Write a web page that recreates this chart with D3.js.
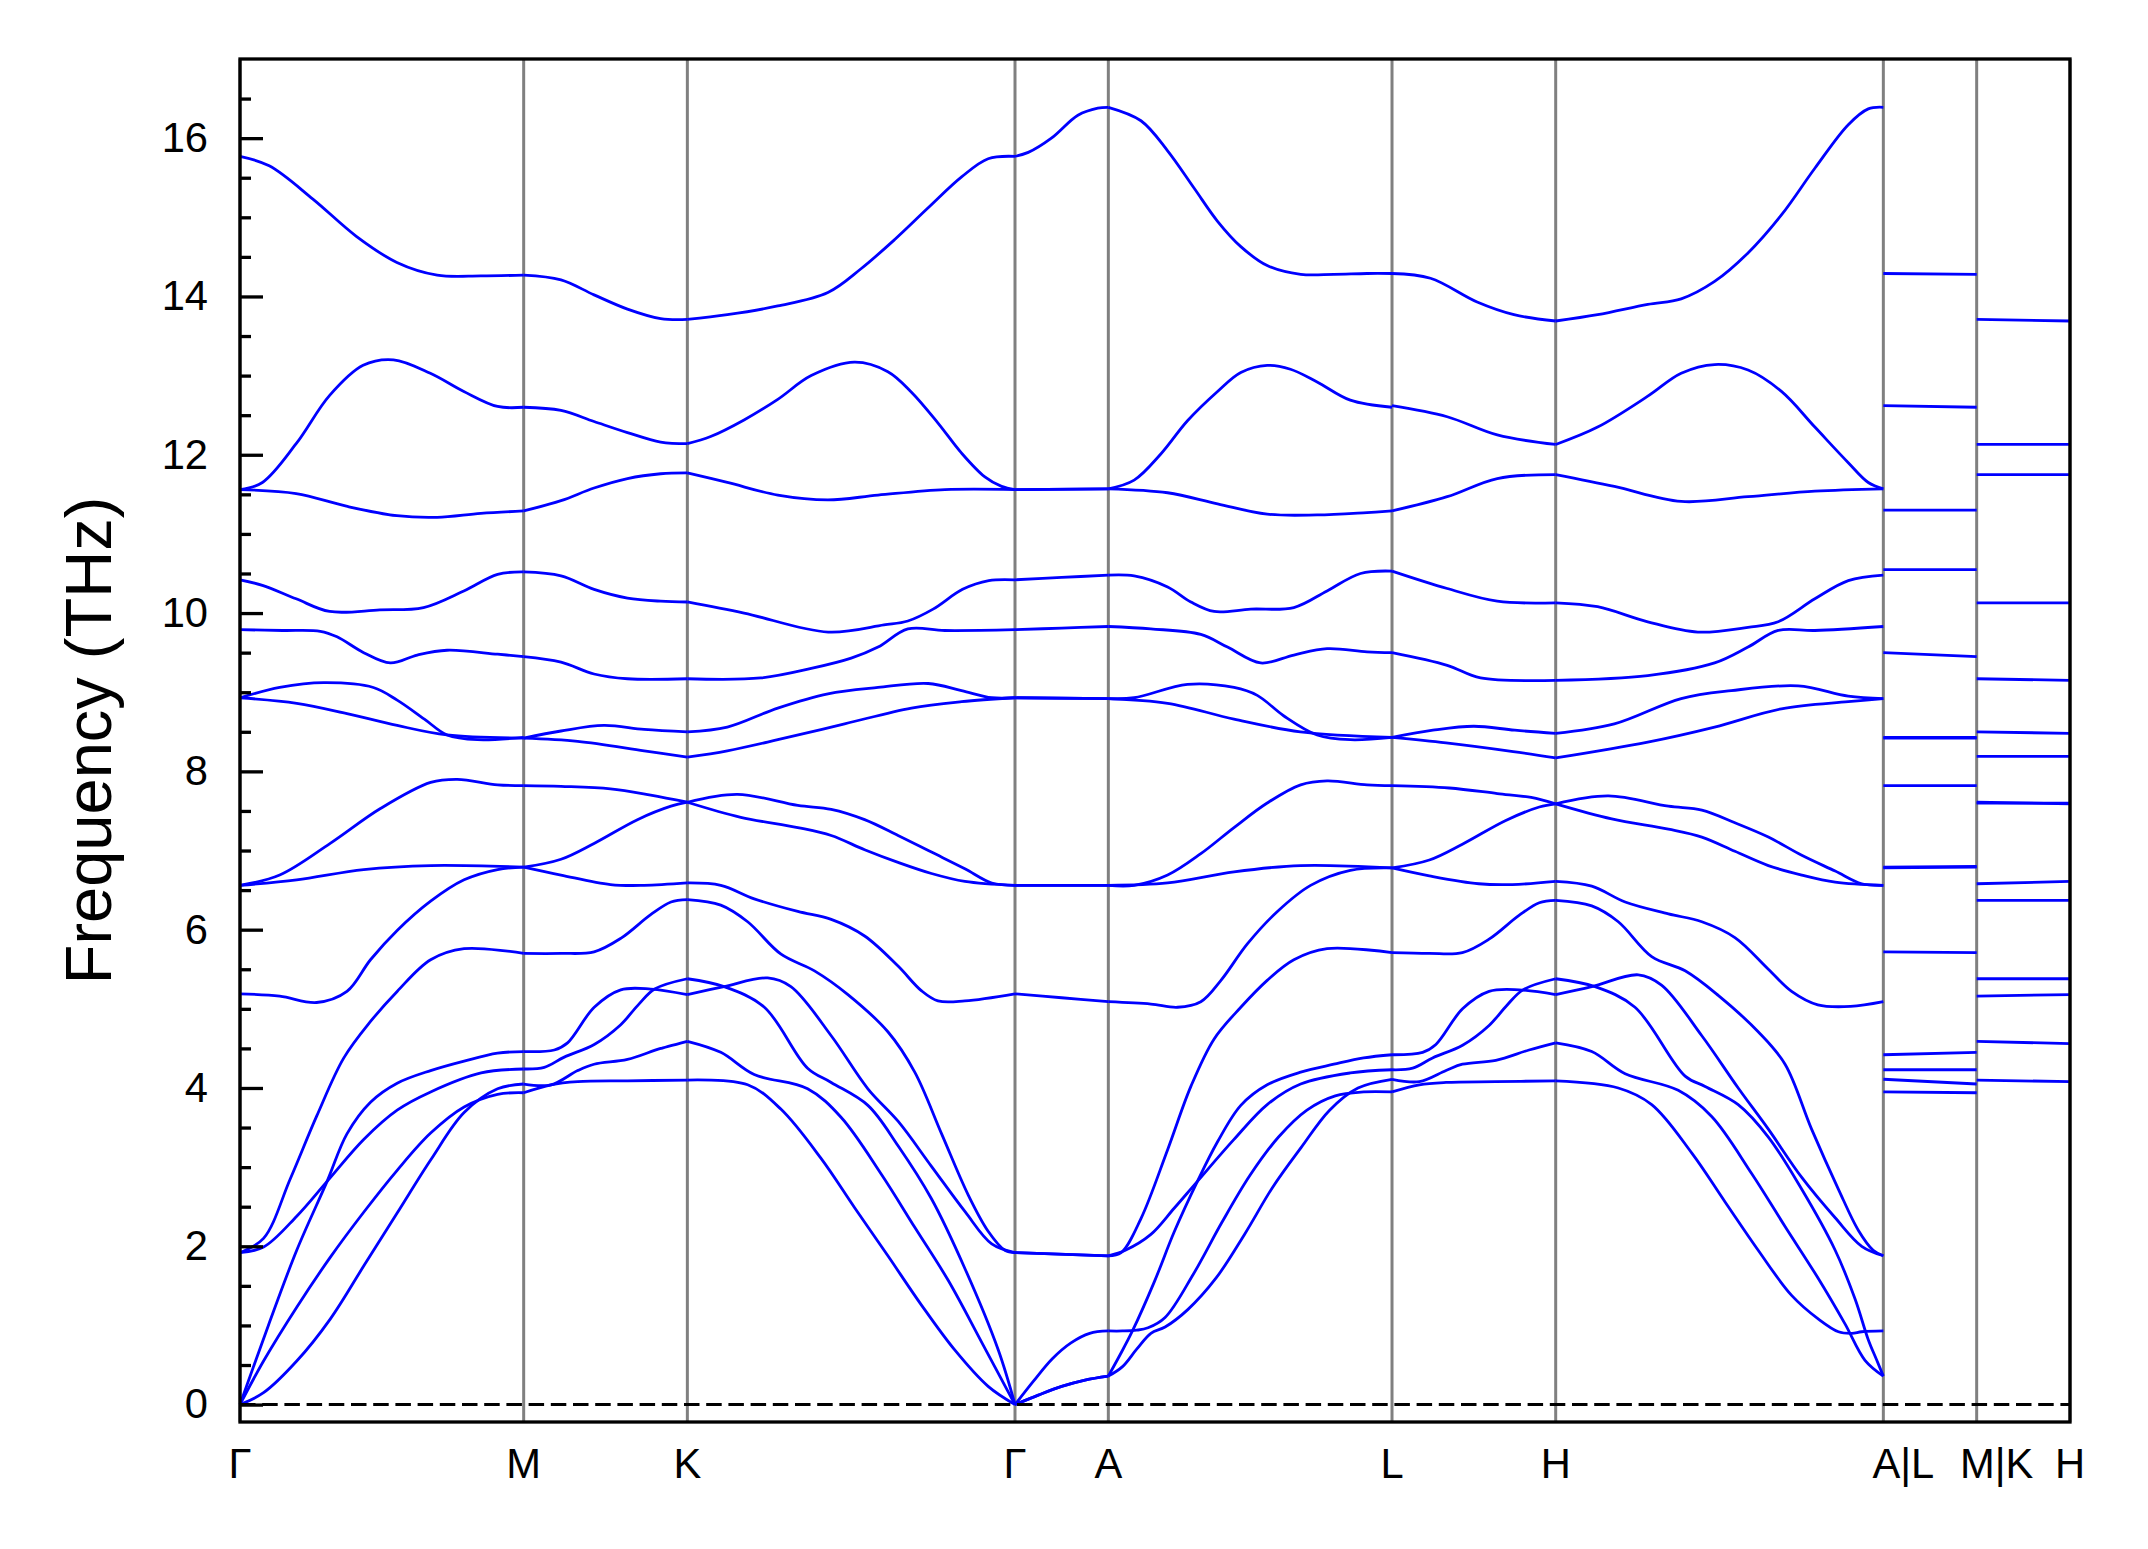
<!DOCTYPE html>
<html>
<head>
<meta charset="utf-8">
<script src="https://cdn.jsdelivr.net/npm/d3@7"></script>
<style>
  body { margin: 0; background: #fff; }
  svg text { font-family: "Liberation Sans", Arial, sans-serif; fill: #000; }
</style>
</head>
<body>
<svg id="chart"></svg>
<script>
const width = 2148;
const height = 1549;

// high-symmetry path
const kLabels = ["Γ", "M", "K", "Γ", "A", "L", "H", "A|L", "M|K", "H"];
const segLengths = [1, 0.577, 1.155, 0.329, 1, 0.577, 1.155, 0.329, 0.329];
const yTickValues = [0, 2, 4, 6, 8, 10, 12, 14, 16];

// each band piece: [fraction along segment, frequency THz]
const bandsGM = [
  [[0,15.77],[0.103,15.65],[0.257,15.23],[0.41,14.76],[0.553,14.43],[0.695,14.27],[0.849,14.26],[1,14.27]],
  [[0,11.56],[0.079,11.65],[0.198,12.14],[0.316,12.75],[0.434,13.13],[0.541,13.2],[0.671,13.03],[0.789,12.8],[0.908,12.61],[1,12.6]],
  [[0,11.56],[0.198,11.51],[0.375,11.35],[0.553,11.23],[0.695,11.21],[0.849,11.26],[1,11.29]],
  [[0,10.42],[0.079,10.35],[0.198,10.18],[0.316,10.02],[0.493,10.04],[0.647,10.07],[0.789,10.28],[0.908,10.49],[1,10.52]],
  [[0,9.79],[0.15,9.78],[0.283,9.77],[0.342,9.7],[0.436,9.5],[0.53,9.37],[0.625,9.47],[0.73,9.53],[0.908,9.48],[1,9.45]],
  [[0,8.93],[0.14,9.06],[0.295,9.12],[0.47,9.06],[0.554,8.9],[0.65,8.66],[0.73,8.46],[0.837,8.4],[1,8.43]],
  [[0,8.93],[0.2,8.86],[0.377,8.73],[0.554,8.58],[0.73,8.46],[1,8.42]],
  [[0,6.56],[0.14,6.69],[0.318,7.09],[0.495,7.53],[0.672,7.86],[0.766,7.9],[0.908,7.83],[1,7.82]],
  [[0,6.56],[0.2,6.63],[0.436,6.76],[0.672,6.81],[1,6.79]],
  [[0,5.19],[0.14,5.16],[0.27,5.08],[0.377,5.22],[0.46,5.62],[0.554,5.99],[0.672,6.36],[0.79,6.63],[0.908,6.76],[1,6.79]],
  [[0,1.92],[0.083,2.1],[0.177,2.85],[0.271,3.65],[0.366,4.38],[0.46,4.84],[0.554,5.22],[0.672,5.62],[0.79,5.76],[1,5.7]],
  [[0,1.92],[0.083,1.99],[0.2,2.38],[0.307,2.82],[0.436,3.35],[0.554,3.72],[0.672,3.95],[0.85,4.19],[1,4.24]],
  [[0,0],[0.1,1.0],[0.2,1.95],[0.307,2.82],[0.377,3.42],[0.46,3.82],[0.554,4.06],[0.672,4.22],[0.79,4.34],[0.908,4.44],[1,4.46]],
  [[0,0],[0.083,0.55],[0.2,1.23],[0.318,1.86],[0.436,2.43],[0.554,2.96],[0.672,3.43],[0.79,3.76],[0.908,3.92],[1,3.94]],
  [[0,0],[0.083,0.15],[0.2,0.55],[0.318,1.08],[0.436,1.75],[0.554,2.42],[0.672,3.09],[0.79,3.69],[0.908,3.99],[1,4.05]]
];

const bandsMK = [
  [[0,14.27],[0.228,14.21],[0.43,14.02],[0.634,13.84],[0.837,13.72],[1,13.71]],
  [[0,12.6],[0.228,12.56],[0.43,12.42],[0.634,12.28],[0.837,12.16],[1,12.14]],
  [[0,11.29],[0.228,11.42],[0.43,11.58],[0.634,11.7],[0.837,11.76],[1,11.77]],
  [[0,10.52],[0.228,10.47],[0.43,10.3],[0.634,10.19],[0.837,10.15],[1,10.14]],
  [[0,9.45],[0.228,9.38],[0.43,9.23],[0.634,9.17],[1,9.17]],
  [[0,8.42],[0.228,8.51],[0.49,8.58],[0.736,8.53],[1,8.5]],
  [[0,8.42],[0.33,8.38],[0.736,8.26],[1,8.18]],
  [[0,7.82],[0.228,7.81],[0.53,7.78],[0.776,7.7],[1,7.61]],
  [[0,6.79],[0.228,6.89],[0.43,7.09],[0.695,7.39],[0.9,7.56],[1,7.61]],
  [[0,6.79],[0.228,6.69],[0.53,6.57],[0.736,6.56],[1,6.59]],
  [[0,5.7],[0.228,5.7],[0.43,5.72],[0.593,5.89],[0.776,6.19],[0.9,6.35],[1,6.38]],
  [[0,4.46],[0.187,4.48],[0.268,4.57],[0.431,5.02],[0.593,5.24],[0.776,5.25],[1,5.18]],
  [[0,4.24],[0.126,4.26],[0.248,4.39],[0.431,4.55],[0.593,4.8],[0.7,5.05],[0.8,5.25],[1,5.38]],
  [[0,4.05],[0.167,4.04],[0.33,4.22],[0.43,4.3],[0.634,4.36],[0.837,4.5],[1,4.59]],
  [[0,3.94],[0.167,4.04],[0.33,4.08],[0.634,4.09],[1,4.1]]
];

const bandsKG = [
  [[0,13.71],[0.122,13.77],[0.276,13.88],[0.429,14.05],[0.53,14.35],[0.633,14.72],[0.735,15.12],[0.837,15.51],[0.918,15.74],[1,15.77]],
  [[0,12.14],[0.071,12.23],[0.173,12.44],[0.276,12.7],[0.378,13.0],[0.51,13.17],[0.612,13.05],[0.684,12.79],[0.765,12.4],[0.837,12.02],[0.908,11.72],[0.959,11.6],[1,11.56]],
  [[0,11.77],[0.122,11.65],[0.276,11.49],[0.429,11.43],[0.582,11.49],[0.786,11.56],[1,11.56]],
  [[0,10.14],[0.173,10.0],[0.43,9.76],[0.6,9.85],[0.673,9.9],[0.75,10.05],[0.84,10.3],[0.92,10.41],[1,10.42]],
  [[0,9.17],[0.224,9.18],[0.378,9.3],[0.5,9.43],[0.582,9.57],[0.673,9.8],[0.786,9.78],[1,9.79]],
  [[0,8.5],[0.122,8.56],[0.276,8.8],[0.429,8.98],[0.582,9.06],[0.735,9.11],[0.837,9.02],[0.929,8.93],[1,8.93]],
  [[0,8.18],[0.122,8.26],[0.276,8.4],[0.48,8.6],[0.684,8.8],[0.837,8.88],[1,8.93]],
  [[0,7.61],[0.153,7.71],[0.337,7.57],[0.439,7.52],[0.541,7.39],[0.643,7.19],[0.745,6.98],[0.847,6.77],[0.929,6.59],[1,6.56]],
  [[0,7.61],[0.163,7.42],[0.337,7.29],[0.439,7.19],[0.541,7.01],[0.643,6.85],[0.745,6.71],[0.847,6.61],[1,6.56]],
  [[0,6.59],[0.102,6.56],[0.204,6.39],[0.337,6.23],[0.439,6.13],[0.541,5.92],[0.643,5.54],[0.714,5.23],[0.765,5.1],[0.847,5.1],[1,5.19]],
  [[0,6.38],[0.102,6.31],[0.184,6.1],[0.286,5.69],[0.388,5.48],[0.49,5.18],[0.612,4.71],[0.694,4.2],[0.776,3.42],[0.857,2.65],[0.918,2.19],[0.969,1.95],[1,1.92]],
  [[0,5.18],[0.112,5.28],[0.245,5.39],[0.316,5.28],[0.439,4.66],[0.551,3.99],[0.643,3.58],[0.745,3.01],[0.847,2.44],[0.929,2.03],[1,1.92]],
  [[0,5.38],[0.112,5.28],[0.235,5.02],[0.367,4.25],[0.439,4.07],[0.551,3.78],[0.643,3.27],[0.745,2.6],[0.847,1.72],[0.949,0.69],[1,0]],
  [[0,4.59],[0.102,4.45],[0.204,4.17],[0.367,3.99],[0.469,3.63],[0.592,2.91],[0.694,2.24],[0.796,1.57],[0.898,0.79],[1,0]],
  [[0,4.1],[0.184,4.04],[0.286,3.73],[0.408,3.11],[0.51,2.49],[0.612,1.88],[0.714,1.26],[0.816,0.69],[0.918,0.23],[1,0]]
];

const bandsGA = [
  [[0,15.77],[0.142,15.82],[0.39,16.0],[0.674,16.29],[0.887,16.38],[1,16.39]],
  [[0,11.56],[1,11.57]],
  [[0,11.56],[1,11.57]],
  [[0,10.42],[0.5,10.45],[1,10.48]],
  [[0,9.79],[0.5,9.81],[1,9.83]],
  [[0,8.93],[1,8.92]],
  [[0,8.93],[1,8.92]],
  [[0,6.56],[1,6.56]],
  [[0,6.56],[1,6.56]],
  [[0,5.19],[0.5,5.14],[1,5.09]],
  [[0,1.92],[1,1.88]],
  [[0,1.92],[1,1.88]],
  [[0,0],[0.2,0.3],[0.4,0.58],[0.6,0.78],[0.8,0.9],[1,0.93]],
  [[0,0],[0.25,0.12],[0.5,0.23],[0.75,0.31],[1,0.36]],
  [[0,0],[0.25,0.12],[0.5,0.23],[0.75,0.31],[1,0.36]]
];

const bandsAL = [
  [[0,16.39],[0.115,16.22],[0.209,15.84],[0.302,15.37],[0.385,14.95],[0.467,14.63],[0.56,14.39],[0.678,14.28],[0.795,14.28],[0.912,14.29],[1,14.29]],
  [[0,11.57],[0.091,11.68],[0.185,12.01],[0.279,12.43],[0.385,12.8],[0.467,13.04],[0.56,13.13],[0.642,13.08],[0.736,12.92],[0.853,12.69],[1,12.6]],
  [[0,11.57],[0.209,11.52],[0.385,11.38],[0.56,11.25],[0.736,11.24],[0.912,11.27],[1,11.29]],
  [[0,10.48],[0.091,10.47],[0.209,10.33],[0.291,10.14],[0.373,10.02],[0.502,10.05],[0.654,10.07],[0.771,10.28],[0.889,10.5],[1,10.53]],
  [[0,9.83],[0.15,9.8],[0.326,9.73],[0.42,9.57],[0.537,9.37],[0.654,9.47],[0.771,9.55],[0.912,9.51],[1,9.5]],
  [[0,8.92],[0.091,8.93],[0.279,9.1],[0.443,9.06],[0.525,8.96],[0.619,8.7],[0.736,8.46],[0.853,8.4],[1,8.43]],
  [[0,8.92],[0.209,8.86],[0.443,8.66],[0.677,8.5],[1,8.43]],
  [[0,6.56],[0.091,6.56],[0.209,6.69],[0.326,6.96],[0.443,7.29],[0.56,7.6],[0.678,7.83],[0.771,7.88],[0.912,7.83],[1,7.82]],
  [[0,6.56],[0.209,6.59],[0.443,6.73],[0.677,6.81],[1,6.78]],
  [[0,5.09],[0.15,5.06],[0.244,5.02],[0.326,5.09],[0.397,5.36],[0.49,5.82],[0.596,6.23],[0.713,6.56],[0.853,6.75],[1,6.78]],
  [[0,1.88],[0.045,1.92],[0.115,2.35],[0.209,3.22],[0.291,4.02],[0.373,4.62],[0.467,5.02],[0.56,5.36],[0.654,5.62],[0.771,5.76],[1,5.71]],
  [[0,1.88],[0.06,1.95],[0.15,2.15],[0.232,2.48],[0.314,2.82],[0.443,3.35],[0.56,3.79],[0.678,4.05],[0.853,4.19],[1,4.23]],
  [[0,0.36],[0.04,0.62],[0.085,0.93],[0.162,1.55],[0.232,2.18],[0.314,2.82],[0.385,3.32],[0.467,3.78],[0.56,4.04],[0.678,4.2],[0.795,4.3],[0.9,4.38],[1,4.42]],
  [[0,0.93],[0.05,0.93],[0.1,0.94],[0.14,0.97],[0.2,1.1],[0.3,1.65],[0.4,2.3],[0.5,2.9],[0.6,3.38],[0.7,3.72],[0.8,3.9],[0.9,3.95],[1,3.95]],
  [[0,0.36],[0.05,0.48],[0.1,0.7],[0.15,0.9],[0.2,0.98],[0.28,1.2],[0.38,1.6],[0.48,2.15],[0.58,2.75],[0.68,3.25],[0.78,3.72],[0.88,4.0],[1,4.11]]
];

const bandsLH = [
  [[0,14.29],[0.235,14.23],[0.52,13.93],[0.745,13.77],[1,13.69]],
  [[0,12.62],[0.337,12.48],[0.643,12.25],[1,12.13]],
  [[0,11.29],[0.337,11.47],[0.643,11.7],[1,11.75]],
  [[0,10.53],[0.337,10.31],[0.643,10.15],[1,10.13]],
  [[0,9.5],[0.337,9.34],[0.541,9.18],[1,9.15]],
  [[0,8.43],[0.25,8.52],[0.5,8.57],[0.75,8.52],[1,8.48]],
  [[0,8.43],[0.33,8.36],[0.74,8.25],[1,8.17]],
  [[0,7.82],[0.35,7.79],[0.643,7.72],[0.85,7.67],[1,7.59]],
  [[0,6.78],[0.228,6.88],[0.43,7.08],[0.695,7.38],[0.9,7.55],[1,7.59]],
  [[0,6.78],[0.228,6.68],[0.53,6.58],[0.736,6.57],[1,6.61]],
  [[0,5.71],[0.228,5.7],[0.43,5.71],[0.593,5.88],[0.776,6.18],[0.9,6.34],[1,6.37]],
  [[0,4.42],[0.187,4.45],[0.268,4.55],[0.431,5.0],[0.593,5.22],[0.776,5.24],[1,5.18]],
  [[0,4.23],[0.126,4.25],[0.248,4.38],[0.431,4.54],[0.593,4.79],[0.7,5.04],[0.8,5.24],[1,5.38]],
  [[0,4.11],[0.167,4.08],[0.33,4.22],[0.43,4.3],[0.634,4.35],[0.837,4.48],[1,4.57]],
  [[0,3.95],[0.167,4.04],[0.33,4.07],[0.634,4.08],[1,4.09]]
];

const bandsHA = [
  [[0,13.69],[0.128,13.77],[0.281,13.9],[0.383,13.97],[0.485,14.19],[0.587,14.55],[0.689,15.03],[0.791,15.62],[0.893,16.17],[0.954,16.37],[1,16.39]],
  [[0,12.13],[0.128,12.35],[0.281,12.74],[0.383,13.03],[0.485,13.14],[0.587,13.07],[0.689,12.8],[0.791,12.35],[0.893,11.9],[0.954,11.65],[1,11.57]],
  [[0,11.75],[0.179,11.6],[0.383,11.41],[0.587,11.47],[0.791,11.54],[1,11.57]],
  [[0,10.13],[0.128,10.08],[0.281,9.89],[0.434,9.76],[0.587,9.82],[0.679,9.89],[0.791,10.18],[0.893,10.41],[1,10.48]],
  [[0,9.15],[0.281,9.21],[0.485,9.37],[0.587,9.57],[0.679,9.78],[0.791,9.78],[1,9.83]],
  [[0,8.48],[0.179,8.6],[0.383,8.92],[0.536,9.02],[0.74,9.08],[0.893,8.95],[1,8.92]],
  [[0,8.17],[0.281,8.37],[0.485,8.56],[0.689,8.79],[0.893,8.88],[1,8.92]],
  [[0,7.59],[0.161,7.69],[0.344,7.56],[0.446,7.51],[0.547,7.35],[0.649,7.17],[0.751,6.94],[0.853,6.74],[0.934,6.58],[1,6.56]],
  [[0,7.59],[0.171,7.4],[0.344,7.27],[0.446,7.17],[0.547,6.99],[0.649,6.81],[0.751,6.69],[0.853,6.6],[1,6.56]],
  [[0,6.61],[0.11,6.55],[0.212,6.35],[0.344,6.2],[0.446,6.1],[0.547,5.9],[0.649,5.5],[0.72,5.22],[0.8,5.05],[0.9,5.03],[1,5.09]],
  [[0,6.37],[0.11,6.3],[0.191,6.1],[0.293,5.66],[0.395,5.48],[0.496,5.17],[0.618,4.71],[0.7,4.3],[0.781,3.48],[0.863,2.72],[0.924,2.2],[0.969,1.95],[1,1.88]],
  [[0,5.18],[0.11,5.28],[0.252,5.43],[0.323,5.3],[0.446,4.66],[0.557,4.0],[0.649,3.48],[0.751,2.87],[0.853,2.36],[0.934,2.0],[1,1.88]],
  [[0,5.38],[0.12,5.28],[0.242,5.02],[0.395,4.15],[0.456,4.02],[0.557,3.79],[0.649,3.38],[0.751,2.72],[0.853,1.95],[0.914,1.33],[0.954,0.82],[0.98,0.56],[1,0.36]],
  [[0,4.57],[0.11,4.46],[0.212,4.18],[0.374,3.97],[0.476,3.64],[0.598,2.92],[0.7,2.25],[0.802,1.59],[0.883,1.02],[0.944,0.56],[1,0.36]],
  [[0,4.09],[0.191,4.0],[0.293,3.79],[0.415,3.18],[0.517,2.56],[0.618,1.95],[0.72,1.38],[0.802,1.08],[0.863,0.92],[0.904,0.9],[0.934,0.92],[1,0.93]]
];

// nearly flat pieces: [start value, end value]
const flatLM = [
  [14.29,14.28],[12.62,12.6],[11.3,11.3],[10.55,10.55],[9.5,9.45],[8.43,8.43],[8.42,8.42],[7.82,7.82],
  [6.79,6.8],[6.78,6.79],[5.72,5.71],[4.42,4.45],[4.23,4.23],[4.11,4.05],[3.95,3.94]
];
const flatKH = [
  [13.71,13.69],[12.13,12.13],[11.75,11.75],[10.13,10.13],[9.17,9.15],[8.5,8.48],[8.19,8.19],[7.6,7.6],
  [7.61,7.59],[6.58,6.61],[6.37,6.37],[5.38,5.38],[5.16,5.18],[4.59,4.56],[4.1,4.08]
];

const kTicks = [0];
segLengths.forEach((l) => kTicks.push(kTicks[kTicks.length - 1] + l));

const segments = [
  bandsGM, bandsMK, bandsKG, bandsGA, bandsAL, bandsLH, bandsHA,
  flatLM.map((p) => [[0, p[0]], [1, p[1]]]),
  flatKH.map((p) => [[0, p[0]], [1, p[1]]])
];

const lineData = [];
segments.forEach((lines, i) => {
  const k0 = kTicks[i];
  const len = segLengths[i];
  lines.forEach((pts) => lineData.push(pts.map(([t, f]) => [k0 + t * len, f])));
});

const margin = { left: 240, right: 78, top: 59, bottom: 127 };

const svg = d3
  .select("#chart")
  .attr("width", width)
  .attr("height", height)
  .attr("viewBox", [0, 0, width, height]);

svg.append("rect").attr("width", width).attr("height", height).attr("fill", "#fff");

const x = d3
  .scaleLinear()
  .domain([0, kTicks[kTicks.length - 1]])
  .range([margin.left, width - margin.right]);

const y = d3
  .scaleLinear()
  .domain([-0.22, 17.0])
  .range([height - margin.bottom, margin.top]);

// vertical lines at high-symmetry points
svg
  .append("g")
  .selectAll("line")
  .data(kTicks)
  .join("line")
  .attr("x1", (d) => x(d))
  .attr("x2", (d) => x(d))
  .attr("y1", y.range()[0])
  .attr("y2", y.range()[1])
  .attr("stroke", "#808080")
  .attr("stroke-width", 3);

// bands
const line = d3
  .line()
  .x((d) => x(d[0]))
  .y((d) => y(d[1]))
  .curve(d3.curveCatmullRom.alpha(0.5));

svg
  .append("g")
  .attr("fill", "none")
  .attr("stroke", "#0000ff")
  .attr("stroke-width", 2.8)
  .attr("stroke-linejoin", "round")
  .selectAll("path")
  .data(lineData)
  .join("path")
  .attr("d", line);

// zero line
svg
  .append("line")
  .attr("x1", x.range()[0])
  .attr("x2", x.range()[1])
  .attr("y1", y(0))
  .attr("y2", y(0))
  .attr("stroke", "#000")
  .attr("stroke-width", 3)
  .attr("stroke-dasharray", "15.5,6.7");

// y axis, ticks pointing inward
const yMajor = svg
  .append("g")
  .attr("transform", `translate(${margin.left},0)`)
  .call(
    d3.axisLeft(y).tickValues(yTickValues).tickSize(-23).tickPadding(32).tickFormat(d3.format("d"))
  );
yMajor.select(".domain").remove();
yMajor.selectAll(".tick line").attr("stroke", "#000").attr("stroke-width", 3.3);
yMajor.selectAll(".tick text").attr("font-size", 41.7).attr("fill", "#000");

const minorValues = d3.range(0.5, 17, 0.5).filter((v) => v % 2 !== 0);
const yMinor = svg
  .append("g")
  .attr("transform", `translate(${margin.left},0)`)
  .call(d3.axisLeft(y).tickValues(minorValues).tickSize(-11).tickFormat(""));
yMinor.select(".domain").remove();
yMinor.selectAll(".tick line").attr("stroke", "#000").attr("stroke-width", 3.3);

// frame
svg
  .append("rect")
  .attr("x", x.range()[0])
  .attr("y", y.range()[1])
  .attr("width", x.range()[1] - x.range()[0])
  .attr("height", y.range()[0] - y.range()[1])
  .attr("fill", "none")
  .attr("stroke", "#000")
  .attr("stroke-width", 3.3);

// k-point labels
const labelShift = (d) => (d.includes("|") ? 20 : 0);
svg
  .append("g")
  .selectAll("text")
  .data(kLabels)
  .join("text")
  .attr("x", (d, i) => x(kTicks[i]) + labelShift(d))
  .attr("y", height - margin.bottom + 56)
  .attr("text-anchor", "middle")
  .attr("font-size", 41.7)
  .text((d) => d);

// y label
svg
  .append("text")
  .attr("transform", `translate(111,${(y.range()[0] + y.range()[1]) / 2}) rotate(-90)`)
  .attr("text-anchor", "middle")
  .attr("font-size", 65)
  .text("Frequency (THz)");
</script>
</body>
</html>
